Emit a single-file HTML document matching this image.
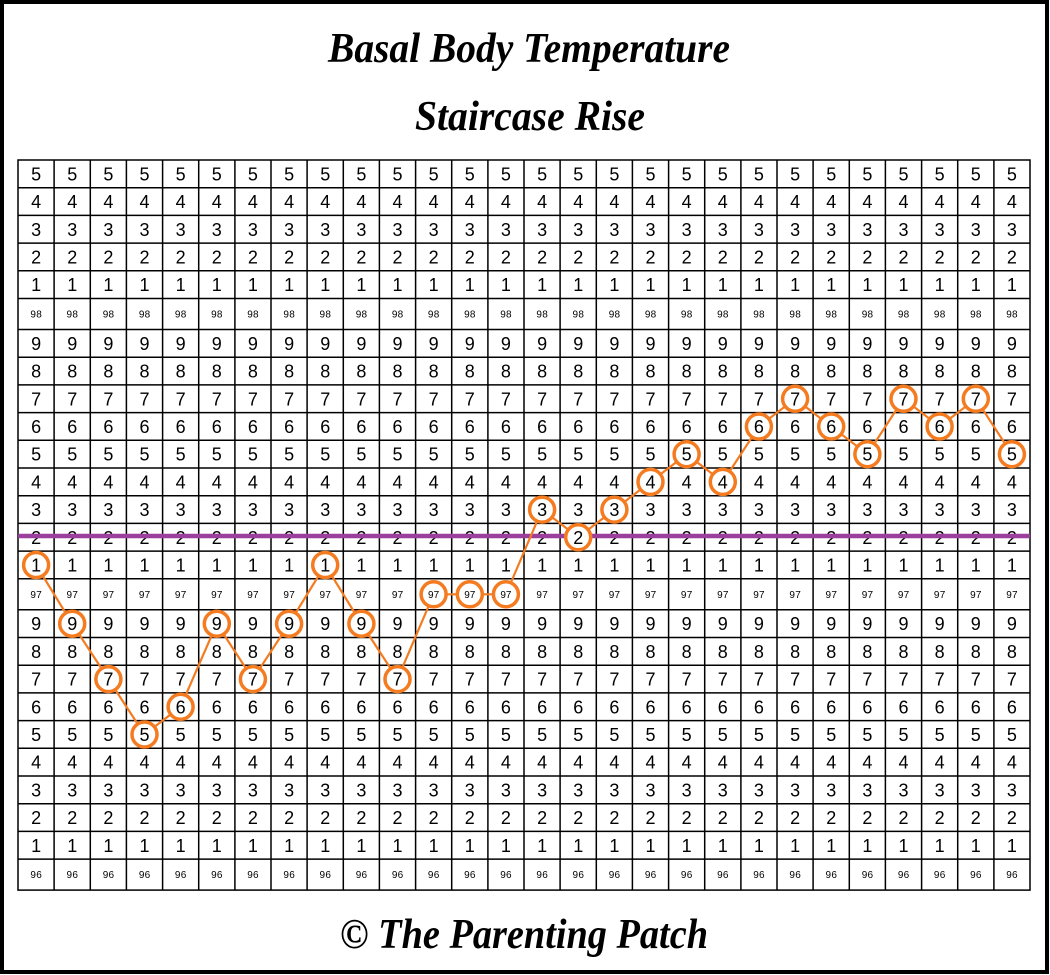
<!DOCTYPE html>
<html><head><meta charset="utf-8"><style>
html,body{margin:0;padding:0;background:#fff;}
svg{display:block;}
.b{font-family:"Liberation Sans",sans-serif;font-size:18px;text-anchor:middle;fill:#000;}
.s{font-family:"Liberation Sans",sans-serif;font-size:10px;text-anchor:middle;fill:#000;}
.t{font-family:"Liberation Serif",serif;font-style:italic;font-weight:bold;font-size:42px;fill:#000;}
</style></head><body>
<svg width="1050" height="975" viewBox="0 0 1050 975" xmlns="http://www.w3.org/2000/svg">
<rect x="0" y="0" width="1050" height="975" fill="#fff"/>
<rect x="2" y="2" width="1045" height="970" fill="none" stroke="#000" stroke-width="4"/>
<text class="t" x="328" y="62" textLength="402" lengthAdjust="spacingAndGlyphs">Basal Body Temperature</text>
<text class="t" x="415" y="130" textLength="230" lengthAdjust="spacingAndGlyphs">Staircase Rise</text>
<text class="t" x="340" y="948" textLength="368" lengthAdjust="spacingAndGlyphs">© The Parenting Patch</text>
<g stroke="#000" stroke-width="1.5" fill="none">
<rect x="18" y="160" width="1012" height="730.1"/>
<path d="M54.1 160V890.1M90.3 160V890.1M126.4 160V890.1M162.6 160V890.1M198.7 160V890.1M234.9 160V890.1M271 160V890.1M307.1 160V890.1M343.3 160V890.1M379.4 160V890.1M415.6 160V890.1M451.7 160V890.1M487.9 160V890.1M524 160V890.1M560.1 160V890.1M596.3 160V890.1M632.4 160V890.1M668.6 160V890.1M704.7 160V890.1M740.9 160V890.1M777 160V890.1M813.1 160V890.1M849.3 160V890.1M885.4 160V890.1M921.6 160V890.1M957.7 160V890.1M993.9 160V890.1"/>
<path d="M18 187.7H1030M18 215.4H1030M18 243.1H1030M18 270.8H1030M18 298.5H1030M18 329.5H1030M18 357.2H1030M18 384.9H1030M18 412.6H1030M18 440.3H1030M18 468H1030M18 495.7H1030M18 523.4H1030M18 551.1H1030M18 578.8H1030M18 609.8H1030M18 637.5H1030M18 665.2H1030M18 692.9H1030M18 720.6H1030M18 748.3H1030M18 776H1030M18 803.7H1030M18 831.4H1030M18 859.1H1030"/>
</g>
<g class="b">
<text class="b" x="36.1 72.2 108.4 144.5 180.6 216.8 252.9 289.1 325.2 361.4 397.5 433.6 469.8 505.9 542.1 578.2 614.4 650.5 686.6 722.8 758.9 795.1 831.2 867.4 903.5 939.6 975.8 1011.9" y="180.4">5555555555555555555555555555</text>
<text class="b" x="36.1 72.2 108.4 144.5 180.6 216.8 252.9 289.1 325.2 361.4 397.5 433.6 469.8 505.9 542.1 578.2 614.4 650.5 686.6 722.8 758.9 795.1 831.2 867.4 903.5 939.6 975.8 1011.9" y="208.1">4444444444444444444444444444</text>
<text class="b" x="36.1 72.2 108.4 144.5 180.6 216.8 252.9 289.1 325.2 361.4 397.5 433.6 469.8 505.9 542.1 578.2 614.4 650.5 686.6 722.8 758.9 795.1 831.2 867.4 903.5 939.6 975.8 1011.9" y="235.8">3333333333333333333333333333</text>
<text class="b" x="36.1 72.2 108.4 144.5 180.6 216.8 252.9 289.1 325.2 361.4 397.5 433.6 469.8 505.9 542.1 578.2 614.4 650.5 686.6 722.8 758.9 795.1 831.2 867.4 903.5 939.6 975.8 1011.9" y="263.5">2222222222222222222222222222</text>
<text class="b" x="36.1 72.2 108.4 144.5 180.6 216.8 252.9 289.1 325.2 361.4 397.5 433.6 469.8 505.9 542.1 578.2 614.4 650.5 686.6 722.8 758.9 795.1 831.2 867.4 903.5 939.6 975.8 1011.9" y="291.2">1111111111111111111111111111</text>
<text class="s" x="33.2 39 69.3 75.1 105.5 111.3 141.6 147.4 177.7 183.5 213.9 219.7 250 255.8 286.2 292 322.3 328.1 358.5 364.3 394.6 400.4 430.7 436.5 466.9 472.7 503 508.8 539.2 545 575.3 581.1 611.5 617.3 647.6 653.4 683.7 689.5 719.9 725.7 756 761.8 792.2 798 828.3 834.1 864.5 870.3 900.6 906.4 936.7 942.5 972.9 978.7 1009 1014.8" y="317.5">98989898989898989898989898989898989898989898989898989898</text>
<text class="b" x="36.1 72.2 108.4 144.5 180.6 216.8 252.9 289.1 325.2 361.4 397.5 433.6 469.8 505.9 542.1 578.2 614.4 650.5 686.6 722.8 758.9 795.1 831.2 867.4 903.5 939.6 975.8 1011.9" y="349.9">9999999999999999999999999999</text>
<text class="b" x="36.1 72.2 108.4 144.5 180.6 216.8 252.9 289.1 325.2 361.4 397.5 433.6 469.8 505.9 542.1 578.2 614.4 650.5 686.6 722.8 758.9 795.1 831.2 867.4 903.5 939.6 975.8 1011.9" y="377.6">8888888888888888888888888888</text>
<text class="b" x="36.1 72.2 108.4 144.5 180.6 216.8 252.9 289.1 325.2 361.4 397.5 433.6 469.8 505.9 542.1 578.2 614.4 650.5 686.6 722.8 758.9 795.1 831.2 867.4 903.5 939.6 975.8 1011.9" y="405.3">7777777777777777777777777777</text>
<text class="b" x="36.1 72.2 108.4 144.5 180.6 216.8 252.9 289.1 325.2 361.4 397.5 433.6 469.8 505.9 542.1 578.2 614.4 650.5 686.6 722.8 758.9 795.1 831.2 867.4 903.5 939.6 975.8 1011.9" y="433">6666666666666666666666666666</text>
<text class="b" x="36.1 72.2 108.4 144.5 180.6 216.8 252.9 289.1 325.2 361.4 397.5 433.6 469.8 505.9 542.1 578.2 614.4 650.5 686.6 722.8 758.9 795.1 831.2 867.4 903.5 939.6 975.8 1011.9" y="460.7">5555555555555555555555555555</text>
<text class="b" x="36.1 72.2 108.4 144.5 180.6 216.8 252.9 289.1 325.2 361.4 397.5 433.6 469.8 505.9 542.1 578.2 614.4 650.5 686.6 722.8 758.9 795.1 831.2 867.4 903.5 939.6 975.8 1011.9" y="488.4">4444444444444444444444444444</text>
<text class="b" x="36.1 72.2 108.4 144.5 180.6 216.8 252.9 289.1 325.2 361.4 397.5 433.6 469.8 505.9 542.1 578.2 614.4 650.5 686.6 722.8 758.9 795.1 831.2 867.4 903.5 939.6 975.8 1011.9" y="516.1">3333333333333333333333333333</text>
<text class="b" x="36.1 72.2 108.4 144.5 180.6 216.8 252.9 289.1 325.2 361.4 397.5 433.6 469.8 505.9 542.1 578.2 614.4 650.5 686.6 722.8 758.9 795.1 831.2 867.4 903.5 939.6 975.8 1011.9" y="543.8">2222222222222222222222222222</text>
<text class="b" x="36.1 72.2 108.4 144.5 180.6 216.8 252.9 289.1 325.2 361.4 397.5 433.6 469.8 505.9 542.1 578.2 614.4 650.5 686.6 722.8 758.9 795.1 831.2 867.4 903.5 939.6 975.8 1011.9" y="571.5">1111111111111111111111111111</text>
<text class="s" x="33.2 39 69.3 75.1 105.5 111.3 141.6 147.4 177.7 183.5 213.9 219.7 250 255.8 286.2 292 322.3 328.1 358.5 364.3 394.6 400.4 430.7 436.5 466.9 472.7 503 508.8 539.2 545 575.3 581.1 611.5 617.3 647.6 653.4 683.7 689.5 719.9 725.7 756 761.8 792.2 798 828.3 834.1 864.5 870.3 900.6 906.4 936.7 942.5 972.9 978.7 1009 1014.8" y="597.8">97979797979797979797979797979797979797979797979797979797</text>
<text class="b" x="36.1 72.2 108.4 144.5 180.6 216.8 252.9 289.1 325.2 361.4 397.5 433.6 469.8 505.9 542.1 578.2 614.4 650.5 686.6 722.8 758.9 795.1 831.2 867.4 903.5 939.6 975.8 1011.9" y="630.2">9999999999999999999999999999</text>
<text class="b" x="36.1 72.2 108.4 144.5 180.6 216.8 252.9 289.1 325.2 361.4 397.5 433.6 469.8 505.9 542.1 578.2 614.4 650.5 686.6 722.8 758.9 795.1 831.2 867.4 903.5 939.6 975.8 1011.9" y="657.9">8888888888888888888888888888</text>
<text class="b" x="36.1 72.2 108.4 144.5 180.6 216.8 252.9 289.1 325.2 361.4 397.5 433.6 469.8 505.9 542.1 578.2 614.4 650.5 686.6 722.8 758.9 795.1 831.2 867.4 903.5 939.6 975.8 1011.9" y="685.6">7777777777777777777777777777</text>
<text class="b" x="36.1 72.2 108.4 144.5 180.6 216.8 252.9 289.1 325.2 361.4 397.5 433.6 469.8 505.9 542.1 578.2 614.4 650.5 686.6 722.8 758.9 795.1 831.2 867.4 903.5 939.6 975.8 1011.9" y="713.3">6666666666666666666666666666</text>
<text class="b" x="36.1 72.2 108.4 144.5 180.6 216.8 252.9 289.1 325.2 361.4 397.5 433.6 469.8 505.9 542.1 578.2 614.4 650.5 686.6 722.8 758.9 795.1 831.2 867.4 903.5 939.6 975.8 1011.9" y="741">5555555555555555555555555555</text>
<text class="b" x="36.1 72.2 108.4 144.5 180.6 216.8 252.9 289.1 325.2 361.4 397.5 433.6 469.8 505.9 542.1 578.2 614.4 650.5 686.6 722.8 758.9 795.1 831.2 867.4 903.5 939.6 975.8 1011.9" y="768.7">4444444444444444444444444444</text>
<text class="b" x="36.1 72.2 108.4 144.5 180.6 216.8 252.9 289.1 325.2 361.4 397.5 433.6 469.8 505.9 542.1 578.2 614.4 650.5 686.6 722.8 758.9 795.1 831.2 867.4 903.5 939.6 975.8 1011.9" y="796.4">3333333333333333333333333333</text>
<text class="b" x="36.1 72.2 108.4 144.5 180.6 216.8 252.9 289.1 325.2 361.4 397.5 433.6 469.8 505.9 542.1 578.2 614.4 650.5 686.6 722.8 758.9 795.1 831.2 867.4 903.5 939.6 975.8 1011.9" y="824.1">2222222222222222222222222222</text>
<text class="b" x="36.1 72.2 108.4 144.5 180.6 216.8 252.9 289.1 325.2 361.4 397.5 433.6 469.8 505.9 542.1 578.2 614.4 650.5 686.6 722.8 758.9 795.1 831.2 867.4 903.5 939.6 975.8 1011.9" y="851.8">1111111111111111111111111111</text>
<text class="s" x="33.2 39 69.3 75.1 105.5 111.3 141.6 147.4 177.7 183.5 213.9 219.7 250 255.8 286.2 292 322.3 328.1 358.5 364.3 394.6 400.4 430.7 436.5 466.9 472.7 503 508.8 539.2 545 575.3 581.1 611.5 617.3 647.6 653.4 683.7 689.5 719.9 725.7 756 761.8 792.2 798 828.3 834.1 864.5 870.3 900.6 906.4 936.7 942.5 972.9 978.7 1009 1014.8" y="878.1">96969696969696969696969696969696969696969696969696969696</text>
</g>
<line x1="18" y1="536" x2="1030" y2="536" stroke="#9b3f9d" stroke-width="4.5"/>
<polyline fill="none" stroke="#f47b20" stroke-width="2.2" points="36.1,565 72.2,623.7 108.4,679.1 144.5,734.5 180.6,706.8 216.8,623.7 252.9,679.1 289.1,623.7 325.2,565 361.4,623.7 397.5,679.1 433.6,594.3 469.8,594.3 505.9,594.3 542.1,509.6 578.2,537.3 614.4,509.6 650.5,481.9 686.6,454.2 722.8,481.9 758.9,426.5 795.1,398.8 831.2,426.5 867.4,454.2 903.5,398.8 939.6,426.5 975.8,398.8 1011.9,454.2"/>
<g fill="#fff" stroke="#f47b20" stroke-width="3.5">
<circle cx="36.1" cy="565" r="12.5"/><circle cx="72.2" cy="623.7" r="12.5"/><circle cx="108.4" cy="679.1" r="12.5"/><circle cx="144.5" cy="734.5" r="12.5"/><circle cx="180.6" cy="706.8" r="12.5"/><circle cx="216.8" cy="623.7" r="12.5"/><circle cx="252.9" cy="679.1" r="12.5"/><circle cx="289.1" cy="623.7" r="12.5"/><circle cx="325.2" cy="565" r="12.5"/><circle cx="361.4" cy="623.7" r="12.5"/><circle cx="397.5" cy="679.1" r="12.5"/><circle cx="433.6" cy="594.3" r="12.5"/><circle cx="469.8" cy="594.3" r="12.5"/><circle cx="505.9" cy="594.3" r="12.5"/><circle cx="542.1" cy="509.6" r="12.5"/><circle cx="578.2" cy="537.3" r="12.5"/><circle cx="614.4" cy="509.6" r="12.5"/><circle cx="650.5" cy="481.9" r="12.5"/><circle cx="686.6" cy="454.2" r="12.5"/><circle cx="722.8" cy="481.9" r="12.5"/><circle cx="758.9" cy="426.5" r="12.5"/><circle cx="795.1" cy="398.8" r="12.5"/><circle cx="831.2" cy="426.5" r="12.5"/><circle cx="867.4" cy="454.2" r="12.5"/><circle cx="903.5" cy="398.8" r="12.5"/><circle cx="939.6" cy="426.5" r="12.5"/><circle cx="975.8" cy="398.8" r="12.5"/><circle cx="1011.9" cy="454.2" r="12.5"/>
</g>
<text class="b" x="36.1" y="571.5">1</text><text class="b" x="72.2" y="630.2">9</text><text class="b" x="108.4" y="685.6">7</text><text class="b" x="144.5" y="741">5</text><text class="b" x="180.6" y="713.3">6</text><text class="b" x="216.8" y="630.2">9</text><text class="b" x="252.9" y="685.6">7</text><text class="b" x="289.1" y="630.2">9</text><text class="b" x="325.2" y="571.5">1</text><text class="b" x="361.4" y="630.2">9</text><text class="b" x="397.5" y="685.6">7</text><text class="s" x="433.6" y="597.8">97</text><text class="s" x="469.8" y="597.8">97</text><text class="s" x="505.9" y="597.8">97</text><text class="b" x="542.1" y="516.1">3</text><text class="b" x="578.2" y="543.8">2</text><text class="b" x="614.4" y="516.1">3</text><text class="b" x="650.5" y="488.4">4</text><text class="b" x="686.6" y="460.7">5</text><text class="b" x="722.8" y="488.4">4</text><text class="b" x="758.9" y="433">6</text><text class="b" x="795.1" y="405.3">7</text><text class="b" x="831.2" y="433">6</text><text class="b" x="867.4" y="460.7">5</text><text class="b" x="903.5" y="405.3">7</text><text class="b" x="939.6" y="433">6</text><text class="b" x="975.8" y="405.3">7</text><text class="b" x="1011.9" y="460.7">5</text>
</svg>
</body></html>
